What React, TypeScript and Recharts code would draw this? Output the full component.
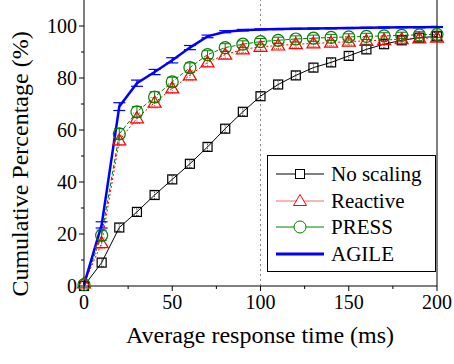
import {
  LineChart,
  Line,
  XAxis,
  YAxis,
  ErrorBar,
  Legend,
  ReferenceLine,
} from "recharts";

const time = [0, 10, 20, 30, 40, 50, 60, 70, 80, 90, 100, 110, 120, 130, 140, 150, 160, 170, 180, 190, 200];
const noScaling = [0, 9, 22.5, 28.5, 35, 41, 47, 53.5, 60.5, 67, 73, 77.5, 81, 84, 86, 88.5, 91, 93, 94.5, 95.5, 96];
const reactive = [1, 16.5, 56, 64.5, 70.5, 76, 81, 86, 89, 91, 92, 92.5, 93, 93.3, 93.6, 94, 94.3, 94.6, 94.9, 95.2, 95.5];
const press = [0.5, 19.5, 58.5, 67, 72.7, 78.5, 84, 89, 91.7, 93, 94, 94.5, 95, 95.3, 95.6, 95.8, 96, 96.2, 96.4, 96.6, 96.8];
const agile = [0.5, 23.5, 69, 78, 82.3, 86.8, 91.7, 96, 97.8, 98.4, 98.7, 98.8, 98.9, 99, 99.1, 99.2, 99.3, 99.4, 99.5, 99.5, 99.6];

// error estimates (small)
const noScalingErr = [0, 1.5, 1.5, 1.5, 1.5, 1.5, 1.5, 1.5, 1.5, 1.5, 1.5, 1.5, 1.5, 1.5, 1.5, 1.5, 1.5, 1.5, 1.5, 1.5, 1.5];
const reactiveErr = [0, 2, 2, 2, 2, 1.8, 1.8, 1.5, 1.5, 1.3, 1.2, 1.2, 1.2, 1.2, 1.2, 1.2, 1.2, 1.2, 1.2, 1.2, 1.2];
const pressErr = [0, 2, 2, 2, 2, 1.8, 1.8, 1.5, 1.5, 1.3, 1.2, 1.2, 1.2, 1.2, 1.2, 1.2, 1.2, 1.2, 1.2, 1.2, 1.2];
const agileErr = [0, 1.2, 1.5, 1.2, 1, 1, 0.8, 0.5, 0.4, 0.3, 0.2, 0.2, 0.2, 0.2, 0.2, 0.2, 0.2, 0.2, 0.2, 0.2, 0.2];

const xTicks = [0, 25, 50, 75, 100, 125, 150, 175, 200];
const yTicks = [0, 10, 20, 30, 40, 50, 60, 70, 80, 90, 100];

const data = time.map((t, i) => ({
  t,
  noScaling: noScaling[i],
  reactive: reactive[i],
  press: press[i],
  agile: agile[i],
  noScalingErr: noScalingErr[i],
  reactiveErr: reactiveErr[i],
  pressErr: pressErr[i],
  agileErr: agileErr[i],
}));

const FONT = "Liberation Serif, Times New Roman, Times, Tinos, DejaVu Serif, serif";

const SquareDot = (props: any) => {
  const { cx, cy, index } = props;
  if (cx == null || cy == null) return <g key={`sq${index}`} />;
  return (
    <rect key={`sq${index}`} x={cx - 4.5} y={cy - 4.5} width={9} height={9}
      fill="none" stroke="#000" strokeWidth={1.2} />
  );
};

const TriangleDot = (props: any) => {
  const { cx, cy, index } = props;
  if (cx == null || cy == null) return <g key={`tr${index}`} />;
  return (
    <polygon key={`tr${index}`}
      points={`${cx},${cy - 6.5} ${cx - 6.5},${cy + 4.5} ${cx + 6.5},${cy + 4.5}`}
      fill="none" stroke="#ff0000" strokeWidth={1.2} />
  );
};

const CircleDot = (props: any) => {
  const { cx, cy, index } = props;
  if (cx == null || cy == null) return <g key={`ci${index}`} />;
  return (
    <circle key={`ci${index}`} cx={cx} cy={cy} r={6}
      fill="none" stroke="#008000" strokeWidth={1.2} />
  );
};

const XTick = (props: any) => {
  const { x, y, payload } = props;
  const major = payload.value % 50 === 0;
  return (
    <g>
      <line x1={x} x2={x} y1={y} y2={y + (major ? 5 : 3)} stroke="#000" />
      {major && (
        <text x={x} y={y + 8} dy="0.75em" textAnchor="middle" style={{ fontFamily: FONT }} fontSize={20} fill="#000">
          {payload.value}
        </text>
      )}
    </g>
  );
};

const YTick = (props: any) => {
  const { x, y, payload } = props;
  const major = payload.value % 20 === 0;
  return (
    <g>
      <line x1={x} x2={x - (major ? 5 : 3)} y1={y} y2={y} stroke="#000" />
      {major && (
        <text x={x - 7} y={y} dy="0.35em" textAnchor="end" style={{ fontFamily: FONT }} fontSize={20} fill="#000">
          {payload.value}
        </text>
      )}
    </g>
  );
};

const RightTick = (props: any) => {
  const { x, y, payload } = props;
  const major = payload.value % 20 === 0;
  return <line x1={x} x2={x - (major ? 5 : 3)} y1={y} y2={y} stroke="#000" />;
};

const entries = [
  { name: "No scaling", color: "#000", shape: "square" },
  { name: "Reactive", color: "#ff0000", shape: "triangle" },
  { name: "PRESS", color: "#008000", shape: "circle" },
  { name: "AGILE", color: "#0000ff", shape: "none" },
];

const LegendBox = () => (
  <div style={{
    width: 169, height: 117, border: "1px solid #000", boxSizing: "border-box",
    background: "#fff", fontFamily: FONT, fontSize: 21, position: "relative", color: "#000",
  }}>
    {entries.map((e, i) => (
      <div key={e.name} style={{
        position: "absolute", left: 7, top: 5 + i * 26.5, height: 26,
        display: "flex", alignItems: "center",
      }}>
        <svg width={50} height={20}>
          <line x1={1} x2={49} y1={10} y2={10} stroke={e.color}
            strokeWidth={e.shape === "none" ? 3 : 1} strokeOpacity={e.shape === "triangle" ? 0.6 : 1} />
          {e.shape === "square" && <rect x={20.5} y={5.5} width={9} height={9} fill="#fff" stroke="#000" />}
          {e.shape === "triangle" && <polygon points="25,3.5 18.5,14.5 31.5,14.5" fill="#fff" stroke="#ff0000" />}
          {e.shape === "circle" && <circle cx={25} cy={10} r={6} fill="#fff" stroke="#008000" />}
        </svg>
        <span style={{ marginLeft: 6, lineHeight: "26px" }}>{e.name}</span>
      </div>
    ))}
  </div>
);

export default function App() {
  return (
    <div style={{ position: "absolute", left: 0, top: 0, width: 454, height: 364, background: "#fff", fontFamily: FONT }}>
      <LineChart width={454} height={364} data={data} margin={{ top: 0, right: 0, bottom: 0, left: 0 }}>
        <XAxis
          dataKey="t"
          type="number"
          domain={[0, 200]}
          ticks={xTicks}
          interval={0}
          height={78}
          tickSize={0}
          tickMargin={0}
          tickLine={false}
          axisLine={{ stroke: "#000" }}
          tick={<XTick />}
          label={(p: any) => (
            <text x={260} y={343} textAnchor="middle" style={{ fontFamily: FONT }} fontSize={24} fill="#000">
              Average response time (ms)
            </text>
          )}
        />
        <YAxis
          type="number"
          domain={[0, 110]}
          ticks={yTicks}
          interval={0}
          width={84}
          tickSize={0}
          tickMargin={0}
          tickLine={false}
          axisLine={{ stroke: "#000" }}
          tick={<YTick />}
          label={(p: any) => (
            <text x={28} y={164} transform="rotate(-90, 28, 164)" textAnchor="middle" style={{ fontFamily: FONT }} fontSize={24} fill="#000">
              Cumulative Percentage (%)
            </text>
          )}
        />
        <YAxis
          yAxisId="right"
          orientation="right"
          type="number"
          domain={[0, 110]}
          ticks={yTicks}
          interval={0}
          width={17}
          tickSize={0}
          tickMargin={0}
          tickLine={false}
          axisLine={{ stroke: "#000" }}
          tick={<RightTick />}
        />
        <ReferenceLine x={100} stroke="#888" strokeDasharray="2 3" />
        <Line dataKey="noScaling" stroke="#000" strokeWidth={1} dot={<SquareDot />} activeDot={false} isAnimationActive={false} legendType="none" />
        <Line dataKey="noScaling" stroke="none" dot={false} activeDot={false} isAnimationActive={false} legendType="none">
          <ErrorBar dataKey="noScalingErr" width={3} stroke="#000" strokeWidth={0.8} strokeDasharray="1 1" direction="y" />
        </Line>
        <Line dataKey="reactive" stroke="#ff0000" strokeWidth={1} strokeDasharray="2 2" dot={<TriangleDot />} activeDot={false} isAnimationActive={false} legendType="none" />
        <Line dataKey="reactive" stroke="none" dot={false} activeDot={false} isAnimationActive={false} legendType="none">
          <ErrorBar dataKey="reactiveErr" width={4} stroke="#ff0000" strokeWidth={0.8} strokeDasharray="1 1" direction="y" />
        </Line>
        <Line dataKey="press" stroke="#008000" strokeWidth={1} strokeDasharray="4 2" dot={<CircleDot />} activeDot={false} isAnimationActive={false} legendType="none" />
        <Line dataKey="press" stroke="none" dot={false} activeDot={false} isAnimationActive={false} legendType="none">
          <ErrorBar dataKey="pressErr" width={5} stroke="#008000" strokeWidth={1} direction="y" />
        </Line>
        <Line dataKey="agile" stroke="#0000ff" strokeWidth={2.5} dot={false} activeDot={false} isAnimationActive={false} legendType="none">
          <ErrorBar dataKey="agileErr" width={6} stroke="#0000ff" strokeWidth={1.2} direction="y" />
        </Line>
        <Legend
          layout="vertical"
          align="center"
          verticalAlign="middle"
          content={<LegendBox />}
          wrapperStyle={{ left: 267, top: 155, width: 169, height: 117 }}
        />
      </LineChart>
    </div>
  );
}
